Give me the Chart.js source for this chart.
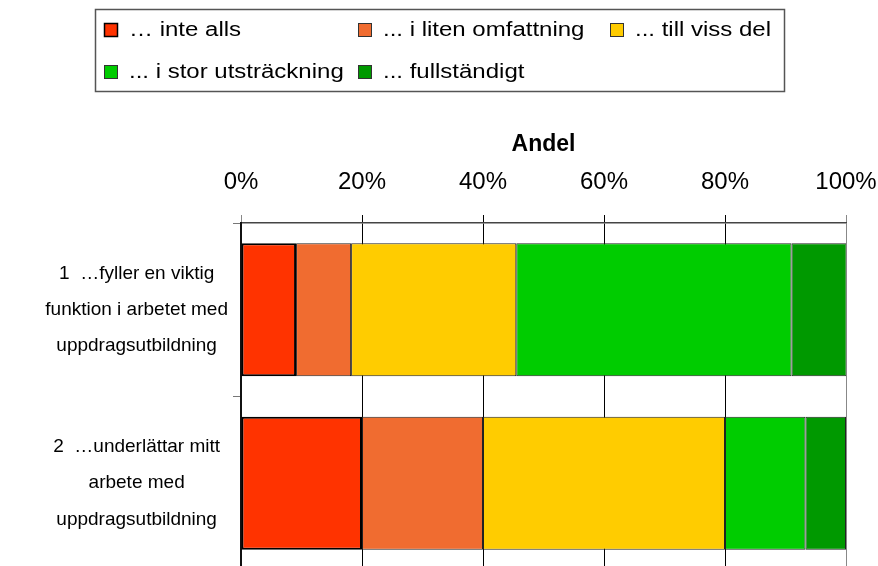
<!DOCTYPE html>
<html>
<head>
<meta charset="utf-8">
<script src="https://cdn.jsdelivr.net/npm/chart.js@4"></script>
<style>
  html, body { margin: 0; padding: 0; overflow: hidden; background: #fff; }
  #wrap { width: 878px; height: 570px; }
</style>
</head>
<body>
<div id="wrap"><canvas id="andelChart"></canvas></div>
<script>
// Andel svar per påstående //

const kategorier = [
    ['1  …fyller en viktig', 'funktion i arbetet med', 'uppdragsutbildning'],
    ['2  …underlättar mitt', 'arbete med', 'uppdragsutbildning']
];
const serier = ['… inte alls', '... i liten omfattning', '... till viss del', '... i stor utsträckning', '... fullständigt'];
const inteAlls = [9.1, 20];
const litenOmfattning = [9.1, 20];
const vissDel = [27.3, 40];
const storUtstrackning = [45.5, 13.3];
const fullstandigt = [9.1, 6.7];
const tickEtiketter = ['0%', '20%', '40%', '60%', '80%', '100%'];

const farger = ['#FF3300', '#F06C30', '#FFCC00', '#00CC00', '#009900'];
const varden = [inteAlls, litenOmfattning, vissDel, storUtstrackning, fullstandigt];

Chart.defaults.font.family = '"Liberation Sans", Arial, sans-serif';
Chart.defaults.color = '#000';

// legend in a framed box, drawn in columns like the original
const boxLegend = {
    id: 'boxLegend',
    afterDraw(chart) {
        const ctx = chart.ctx;
        ctx.save();
        ctx.strokeStyle = '#555';
        ctx.lineWidth = 1.5;
        ctx.strokeRect(95.5, 9.5, 689, 82);
        const colX = [104, 358, 610];
        const rowY = [30, 72];
        chart.data.datasets.forEach((ds, i) => {
            const x = colX[i % 3];
            const y = rowY[Math.floor(i / 3)];
            ctx.fillStyle = ds.backgroundColor;
            ctx.fillRect(x, y - 7, 14, 14);
            ctx.strokeStyle = i === 0 ? '#000' : '#333';
            ctx.lineWidth = i === 0 ? 1.5 : 1;
            ctx.strokeRect(x + 0.5, y - 6.5, 13, 13);
            ctx.fillStyle = '#000';
            ctx.font = '20px "Liberation Sans", Arial, sans-serif';
            ctx.textBaseline = 'middle';
            ctx.save();
            ctx.translate(x + 25, y);
            ctx.scale(1.2, 1);
            ctx.fillText(ds.label, 0, 0);
            ctx.restore();
        });
        ctx.restore();
    }
};

// no extra room for overhanging labels
const nollPadding = s => {
    s.paddingLeft = 0;
    s.paddingRight = 0;
    s.paddingTop = 0;
    s.paddingBottom = 0;
};

const ctxAndel = document.getElementById('andelChart').getContext('2d');
const andelChart = new Chart(ctxAndel, {
    type: 'bar',
    data: {
        labels: kategorier,
        datasets: serier.map((namn, i) => ({
            label: namn,
            data: varden[i],
            backgroundColor: farger[i],
            borderColor: i === 0 ? '#000' : '#222',
            borderWidth: i === 0 ? 2 : 1,
            borderSkipped: false,
            barPercentage: 1,
            categoryPercentage: 0.767
        }))
    },
    options: {
        indexAxis: 'y',
        responsive: true,
        maintainAspectRatio: false,
        animation: false,
        layout: {
            padding: { top: 100, right: 32, bottom: 0, left: 0 }
        },
        plugins: {
            legend: { display: false },
            tooltip: { enabled: false }
        },
        scales: {
            x: {
                position: 'top',
                stacked: true,
                min: 0,
                max: 100,
                ticks: {
                    stepSize: 20,
                    padding: 18,
                    font: { size: 24 },
                    callback: (v, i) => tickEtiketter[i]
                },
                grid: {
                    color: c => (c.index === 0 || c.index === 5) ? '#888' : '#000',
                    lineWidth: 1,
                    tickLength: 8
                },
                border: { display: true, color: '#444', width: 1.5 },
                title: {
                    display: true,
                    text: 'Andel',
                    font: { size: 23, weight: 'bold' },
                    padding: { top: 31, bottom: 0 }
                },
                afterFit: s => { s.height = 123; nollPadding(s); }
            },
            y: {
                stacked: true,
                ticks: {
                    crossAlign: 'center',
                    padding: 5,
                    font: { size: 19, lineHeight: 1.9 }
                },
                grid: {
                    offset: true,
                    drawOnChartArea: false,
                    color: '#777',
                    tickLength: 8
                },
                border: { display: true, color: '#111', width: 2 },
                afterFit: s => { s.width = 241; nollPadding(s); }
            }
        }
    },
    plugins: [boxLegend]
});
</script>
</body>
</html>
